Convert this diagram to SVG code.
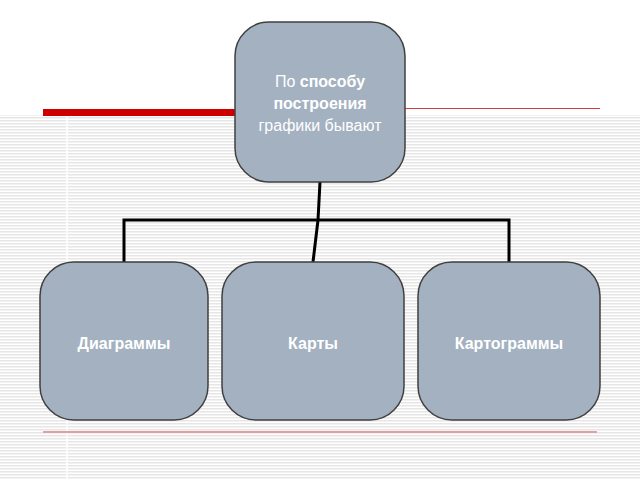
<svg xmlns="http://www.w3.org/2000/svg" width="640" height="480" viewBox="0 0 640 480">
<defs>
<pattern id="st" width="8" height="3" patternUnits="userSpaceOnUse"><rect width="8" height="3" fill="#ffffff"/><rect width="8" height="1.5" fill="#e6e6e6"/></pattern>
<style>
.n{fill:#a3b1c0;stroke:#404040;stroke-width:1.5}
.t{font-family:"Liberation Sans",Arial,sans-serif;font-size:16px;fill:#fff;text-anchor:middle}
.b{font-weight:bold}
.c{stroke:#000;stroke-width:3;fill:none}
</style>
</defs>
<rect width="640" height="480" fill="#fff"/>
<rect x="0" y="115" width="640" height="365" fill="url(#st)"/>
<line x1="67" y1="115" x2="67" y2="480" stroke="#fff" stroke-width="1.5"/>
<rect x="43" y="109" width="195" height="7" fill="#cc0000"/>
<line x1="405" y1="108.5" x2="600" y2="108.5" stroke="#d04040" stroke-width="1"/>
<line x1="43" y1="432" x2="597" y2="432" stroke="#e0a0a0" stroke-width="2"/>
<g id="connectors">
<polyline class="c" points="320,182 318,220"/>
<polyline class="c" points="124,262 124,220 509,220 509,262"/>
<polyline class="c" points="318,220 313,262"/>
</g>
<g id="top"><rect class="n" x="235" y="22" width="170" height="160" rx="34"/>
<text class="t" x="320" y="87">По <tspan class="b">способу</tspan></text>
<text class="t b" x="320" y="109">построения</text>
<text class="t" x="320" y="131">графики бывают</text></g>
<g id="n1"><rect class="n" x="40" y="262" width="168" height="158" rx="34"/><text class="t b" x="124" y="349">Диаграммы</text></g>
<g id="n2"><rect class="n" x="222" y="262" width="182" height="158" rx="34"/><text class="t b" x="313" y="349">Карты</text></g>
<g id="n3"><rect class="n" x="418" y="262" width="182" height="158" rx="34"/><text class="t b" x="509" y="349">Картограммы</text></g>
</svg>
